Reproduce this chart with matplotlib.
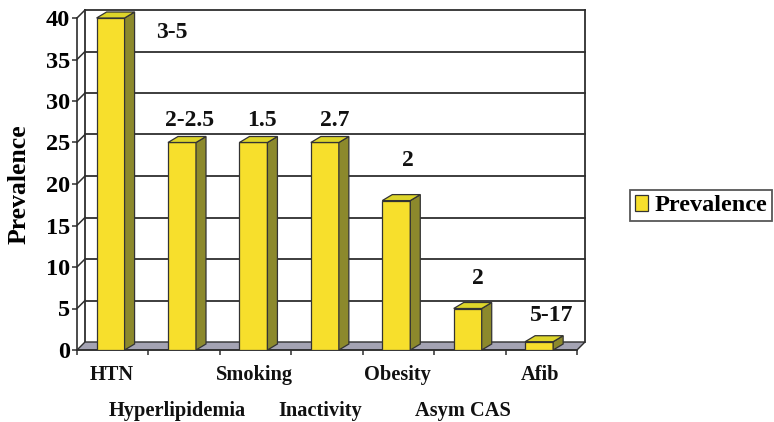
import matplotlib
matplotlib.use("Agg")
import matplotlib.pyplot as plt
from matplotlib.patches import Polygon, Rectangle
import numpy as np

# Risk factors, their prevalence (%) and the relative risk printed over each bar
categories = ["HTN", "Hyperlipidemia", "Smoking", "Inactivity", "Obesity", "Asym CAS", "Afib"]
prevalence = [40, 25, 25, 25, 18, 5, 1]
relative_risk = ["3-5", "2-2.5", "1.5", "2.7", "2", "2", "5-17"]
y_ticks = [0, 5, 10, 15, 20, 25, 30, 35, 40]

# Where each relative-risk label sits relative to its bar top (pixels: right, up)
label_offsets = [(61, -15), (8, 22), (9, 22), (10, 22), (12, 40), (10, 30), (13, 26)]

plt.rcParams["font.family"] = ["Liberation Serif", "DejaVu Serif"]
plt.rcParams["font.weight"] = "bold"

DPI = 100
fig = plt.figure(figsize=(7.74, 4.22), dpi=DPI, facecolor="white")
W, H = 774, 422
ax = fig.add_axes([77 / W, (H - 350) / H, 500 / W, 332 / H])
n = len(categories)
ax.set_xlim(-0.5, n - 0.5)
ax.set_ylim(0, 40)
ax.set_facecolor("none")

line_col = "#2e2e2e"
px2pt = 72.0 / DPI

# depth of the back wall and of the bars (data units)
px_x = n / 500.0
px_y = 40 / 332.0
wall_dx, wall_dy = 8 * px_x, 8 * px_y
bar_dx, bar_dy = 10 * px_x, 6 * px_y

x0, x1 = -0.5, n - 0.5

# back wall gridlines plus the left wall's slanted segments
for v in y_ticks[1:]:
    ax.plot([x0 + wall_dx, x1 + wall_dx], [v + wall_dy, v + wall_dy],
            color=line_col, lw=1.3, zorder=1, clip_on=False)
    ax.plot([x0, x0 + wall_dx], [v, v + wall_dy], color=line_col, lw=1.1,
            zorder=1, clip_on=False)
# back wall vertical edges
for xe in (x0 + wall_dx, x1 + wall_dx):
    ax.plot([xe, xe], [wall_dy, 40 + wall_dy], color=line_col, lw=1.3,
            zorder=1, clip_on=False)

# floor
floor = Polygon([(x0, 0), (x1, 0), (x1 + wall_dx, wall_dy), (x0 + wall_dx, wall_dy)],
                closed=True, facecolor="#a4a3b3", edgecolor=line_col, lw=1.0,
                zorder=2, clip_on=False)
ax.add_patch(floor)

# bars: front faces through ax.bar, side and top faces built from each bar
x = np.arange(n)
bar_w = 0.392
front_col, side_col, top_col = "#f7df2c", "#8c892c", "#ddd52a"
bars = ax.bar(x - 0.03, prevalence, width=bar_w, color=front_col,
              edgecolor="#333333", lw=0.9, zorder=4)
for rect in bars:
    bx0 = rect.get_x()
    bx1 = bx0 + rect.get_width()
    v = rect.get_height()
    side = Polygon([(bx1, 0), (bx1 + bar_dx, bar_dy), (bx1 + bar_dx, v + bar_dy), (bx1, v)],
                   closed=True, facecolor=side_col, edgecolor="#333333", lw=0.9,
                   zorder=4, clip_on=False)
    top = Polygon([(bx0, v), (bx1, v), (bx1 + bar_dx, v + bar_dy), (bx0 + bar_dx, v + bar_dy)],
                  closed=True, facecolor=top_col, edgecolor="#333333", lw=0.9,
                  zorder=4, clip_on=False)
    ax.add_patch(side)
    ax.add_patch(top)

# relative-risk labels
for rect, txt, (ox, oy) in zip(bars, relative_risk, label_offsets):
    cx = rect.get_x() + rect.get_width() / 2
    ax.annotate(txt, xy=(cx, rect.get_height()), xytext=(ox * px2pt, oy * px2pt),
                textcoords="offset points", ha="center", va="center",
                fontsize=17, fontweight="bold", color="#111111", zorder=6,
                annotation_clip=False)

# axes lines
for s in ("top", "right"):
    ax.spines[s].set_visible(False)
ax.spines["left"].set_color(line_col)
ax.spines["bottom"].set_color(line_col)
ax.spines["left"].set_linewidth(1.2)
ax.spines["bottom"].set_linewidth(1.2)

ax.set_yticks(y_ticks)
ax.set_yticklabels([str(t) for t in y_ticks], fontsize=17.5, fontweight="bold")
ax.tick_params(axis="y", direction="out", length=5 * px2pt, width=1.1,
               color=line_col, pad=1.5)
ax.set_xticks(np.arange(x0, x1 + 0.01, 1.0))
ax.set_xticklabels([])
ax.tick_params(axis="x", direction="out", length=5 * px2pt, width=1.1, color=line_col)

# category names on two staggered rows
for i, name in enumerate(categories):
    row_down = 25 if i % 2 == 0 else 61
    shift = -0.02 if i % 2 == 0 else -0.1
    ax.annotate(name, xy=(i + shift, 0), xytext=(0, -row_down * px2pt),
                textcoords="offset points", ha="center", va="center",
                fontsize=14.7, fontweight="bold", color="#111111",
                annotation_clip=False)

ax.set_ylabel("Prevalence", fontsize=18.5, fontweight="bold", labelpad=11)

# legend
handle = Rectangle((0, 0), 1, 1, facecolor=front_col, edgecolor="#333333", lw=0.9)
leg = fig.legend([handle], ["Prevalence"], loc="center right",
                 bbox_to_anchor=(772 / W, 1 - 205.5 / H),
                 prop={"family": ["Liberation Serif"], "weight": "bold", "size": 17.5},
                 frameon=True, fancybox=False, handlelength=0.55, handleheight=0.65,
                 handletextpad=0.25, borderpad=0.2, borderaxespad=0)
leg.get_frame().set_edgecolor(line_col)
leg.get_frame().set_linewidth(1.3)

fig.savefig("out.png", dpi=DPI, facecolor="white")
